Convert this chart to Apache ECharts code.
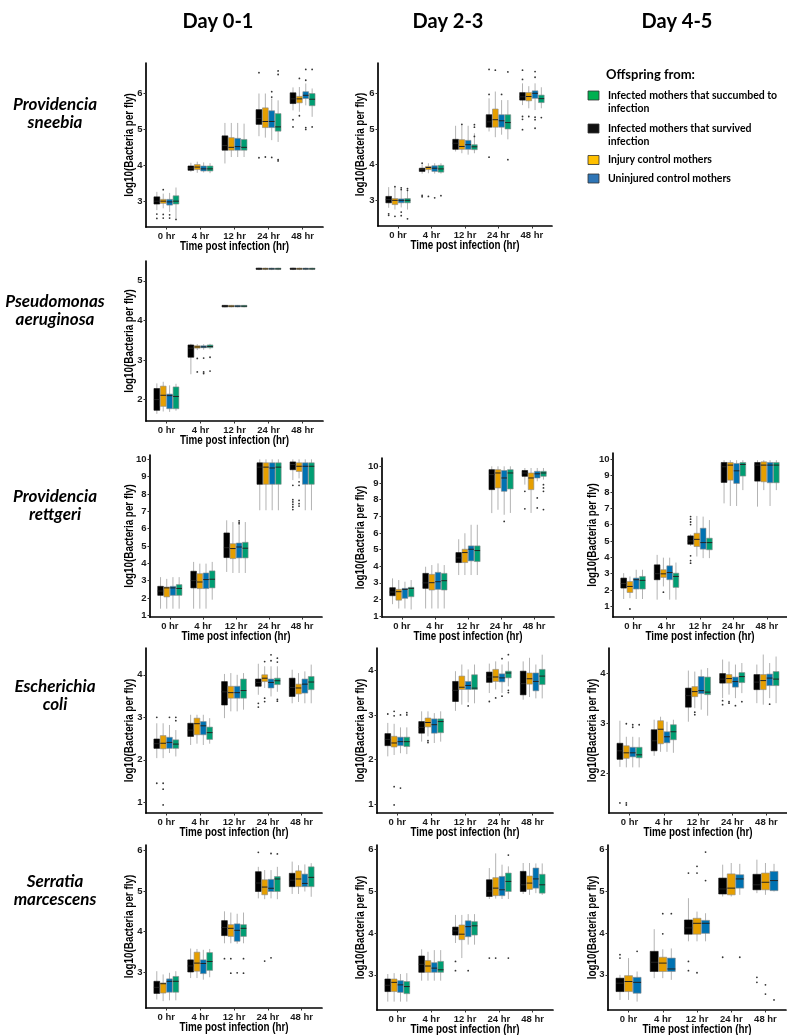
<!DOCTYPE html>
<html><head><meta charset="utf-8">
<script src="https://cdn.jsdelivr.net/npm/echarts@6/dist/echarts.min.js"></script>
<style>html,body{margin:0;padding:0;background:#fff}#c{width:787px;height:1035px}</style>
</head><body><div id="c"></div>
<script>
// ---------------- DATA ----------------
const timeCats = ['0 hr','4 hr','12 hr','24 hr','48 hr'];
const dayHeaders = ['Day 0-1','Day 2-3','Day 4-5'];
const speciesNames = [['Providencia','sneebia'],['Pseudomonas','aeruginosa'],['Providencia','rettgeri'],['Escherichia','coli'],['Serratia','marcescens']];
// plot group order: survived, injury control, uninjured control, succumbed
const groupColors = ['#000000','#E69F00','#0072B2','#009E73'];
const legendTitle = 'Offspring from:';
const legendLabels = [['Infected mothers that succumbed to','infection'],['Infected mothers that survived','infection'],['Injury control mothers'],['Uninjured control mothers']];
const legendColors = ['#00B050','#111111','#FFC000','#2E75B6'];
const xTitle = 'Time post infection (hr)';
const yTitle = 'log10(Bacteria per fly)';

const ticksSneebia = [3,4,5,6];
const ticksAeruginosa = [2,3,4,5];
const ticksRettgeri = [1,2,3,4,5,6,7,8,9,10];
const ticksColi = [1,2,3,4];
const ticksColiD45 = [2,3,4];
const ticksSerratia = [3,4,5,6];

// boxes: per group, per time: [whiskerLow, q1, median, q3, whiskerHigh]
const sneebiaD01Box = [
 [[2.75,2.92,3.0,3.12,3.26],[3.82,3.86,3.92,3.98,4.07],[4.05,4.42,4.55,4.82,5.18],[4.81,5.14,5.3,5.55,6.0],[5.53,5.72,5.85,6.02,6.17]],
 [[2.8,2.94,3.0,3.05,3.21],[3.79,3.88,3.95,4.02,4.1],[4.23,4.42,4.5,4.77,5.18],[4.77,5.05,5.22,5.6,6.0],[5.49,5.74,5.85,5.92,6.18]],
 [[2.7,2.89,2.98,3.05,3.23],[3.8,3.84,3.9,3.98,4.08],[4.23,4.42,4.52,4.75,5.18],[4.7,5.05,5.22,5.52,5.86],[5.67,5.86,5.95,6.05,6.28]],
 [[2.52,2.92,3.0,3.15,3.38],[3.78,3.84,3.9,3.98,4.06],[4.23,4.42,4.5,4.72,5.16],[4.65,4.95,5.07,5.44,5.81],[5.35,5.66,5.84,6.0,6.14]]
];
// outliers: [group, time, value]
const sneebiaD01Out = [[0,0,2.64],[0,0,2.52],[1,0,2.63],[1,0,2.53],[1,0,3.32],[2,0,2.62],[2,0,2.53],[3,0,2.49],[0,3,6.58],[0,3,4.21],[1,3,4.23],[2,3,6.05],[2,3,5.9],[2,3,4.22],[3,3,6.63],[3,3,6.53],[3,3,4.12],[3,3,4.16],[0,4,5.27],[0,4,5.07],[1,4,6.42],[1,4,5.38],[2,4,6.67],[2,4,6.37],[2,4,5.05],[2,4,5.0],[3,4,6.67],[3,4,5.07]];

const sneebiaD23Box = [
 [[2.79,2.93,3.02,3.11,3.37],[3.75,3.81,3.86,3.9,4.0],[4.37,4.43,4.6,4.71,5.09],[4.93,5.05,5.2,5.4,5.86],[5.67,5.81,5.9,6.02,6.28]],
 [[2.74,2.88,3.0,3.05,3.34],[3.76,3.86,3.92,3.95,4.04],[4.32,4.43,4.51,4.7,5.14],[4.77,5.05,5.26,5.56,6.05],[5.58,5.79,5.91,6.02,6.2]],
 [[2.8,2.93,3.0,3.04,3.3],[3.75,3.81,3.9,3.97,4.04],[4.28,4.43,4.56,4.68,5.09],[4.84,5.05,5.23,5.4,5.81],[5.53,5.86,6.0,6.07,6.28]],
 [[2.74,2.93,3.0,3.05,3.3],[3.75,3.79,3.88,3.98,4.04],[4.32,4.42,4.5,4.56,4.88],[4.71,5.0,5.18,5.4,5.81],[5.58,5.74,5.85,5.95,6.17]]
];
const sneebiaD23Out = [[0,0,2.58],[0,0,2.62],[1,0,3.38],[1,0,2.55],[2,0,3.35],[2,0,3.3],[2,0,2.67],[2,0,2.57],[3,0,3.33],[3,0,3.28],[3,0,2.48],[0,1,4.04],[0,1,3.14],[0,1,3.1],[1,1,3.11],[2,1,3.07],[3,1,3.13],[1,2,5.13],[3,2,5.12],[3,2,5.05],[3,2,4.79],[0,3,6.67],[0,3,5.97],[0,3,4.21],[1,3,6.65],[2,3,5.97],[3,3,6.6],[3,3,4.14],[0,4,6.65],[0,4,6.39],[0,4,5.35],[0,4,5.27],[0,4,4.98],[1,4,5.35],[2,4,6.61],[2,4,6.45],[2,4,5.33],[2,4,5.26],[2,4,5.02],[3,4,5.32]];

const aeruginosaD01Box = [
 [[1.64,1.73,2.0,2.28,2.41],[2.64,3.07,3.3,3.38,3.41],[4.33,4.34,4.36,4.38,4.39],[5.27,5.29,5.3,5.32,5.33],[5.27,5.29,5.3,5.32,5.33]],
 [[1.7,1.83,2.11,2.34,2.45],[3.25,3.3,3.33,3.36,3.4],[4.33,4.34,4.36,4.38,4.39],[5.27,5.29,5.3,5.32,5.33],[5.27,5.29,5.3,5.32,5.33]],
 [[1.69,1.77,2.1,2.14,2.36],[3.26,3.31,3.33,3.36,3.4],[4.33,4.34,4.36,4.38,4.39],[5.27,5.29,5.3,5.32,5.33],[5.27,5.29,5.3,5.32,5.33]],
 [[1.72,1.77,2.08,2.32,2.4],[3.27,3.31,3.34,3.38,3.41],[4.33,4.34,4.36,4.38,4.39],[5.27,5.29,5.3,5.32,5.33],[5.27,5.29,5.3,5.32,5.33]]
];
const aeruginosaD01Out = [[1,1,3.04],[1,1,2.7],[2,1,3.05],[2,1,2.7],[2,1,2.66],[3,1,3.07],[3,1,2.72]];

const rettgeriD01Box = [
 [[1.38,2.15,2.4,2.67,3.2],[1.38,2.58,3.0,3.54,4.08],[3.5,4.33,4.9,5.75,6.48],[7.06,8.56,9.55,9.8,10.0],[8.8,9.4,9.7,9.85,10.0]],
 [[1.38,2.06,2.58,2.63,3.1],[1.38,2.54,2.92,3.4,3.98],[3.44,4.27,4.85,5.13,6.38],[7.06,8.56,9.55,9.8,10.0],[8.9,9.3,9.6,9.8,10.0]],
 [[1.38,2.15,2.58,2.67,3.2],[1.38,2.54,3.06,3.44,3.98],[3.44,4.31,4.94,5.17,6.2],[7.06,8.56,9.5,9.8,10.0],[7.06,8.56,9.6,9.8,10.0]],
 [[1.38,2.15,2.55,2.77,3.2],[1.9,2.58,3.08,3.56,4.08],[3.44,4.31,4.87,5.21,6.38],[7.06,8.56,9.55,9.8,10.0],[7.06,8.56,9.6,9.8,10.0]]
];
const rettgeriD01Out = [[2,2,6.45],[2,2,6.35],[2,2,6.28],[0,4,8.5],[0,4,7.67],[0,4,7.54],[0,4,7.4],[0,4,7.25],[0,4,7.1],[1,4,8.7],[1,4,8.5],[1,4,7.63],[1,4,7.44],[1,4,7.3]];

const rettgeriD23Box = [
 [[1.72,2.23,2.45,2.71,3.27],[1.46,2.67,3.0,3.57,3.97],[3.47,4.22,4.5,4.82,5.62],[7.19,8.6,9.5,9.8,10.0],[8.9,9.4,9.6,9.75,9.9]],
 [[1.46,1.96,2.47,2.61,3.17],[1.46,2.57,3.01,3.51,4.07],[3.47,4.22,4.82,5.02,5.98],[7.39,8.7,9.6,9.8,10.0],[7.2,8.6,9.3,9.6,9.9]],
 [[1.46,2.07,2.61,2.67,3.07],[1.46,2.61,3.07,3.63,4.17],[3.47,4.32,5.02,5.22,6.49],[7.09,8.5,9.3,9.75,10.0],[9.1,9.3,9.55,9.7,9.9]],
 [[1.4,2.17,2.67,2.73,3.17],[1.46,2.57,3.13,3.57,4.07],[3.47,4.28,4.94,5.22,6.49],[7.2,8.64,9.6,9.8,10.0],[9.2,9.4,9.6,9.7,9.9]]
];
const rettgeriD23Out = [[2,3,6.69],[0,4,8.5],[0,4,7.45],[2,4,8.1],[2,4,7.5],[3,4,8.9],[3,4,8.7],[3,4,8.5],[3,4,7.4]];

const rettgeriD45Box = [
 [[1.45,2.12,2.4,2.73,3.03],[1.41,2.63,3.0,3.54,4.15],[4.7,4.8,5.0,5.31,5.4],[7.3,8.58,9.54,9.8,9.94],[7.1,8.66,9.64,9.8,9.94]],
 [[1.5,1.85,2.22,2.52,2.83],[2.22,2.77,2.99,3.24,3.98],[4.05,4.66,5.1,5.47,6.53],[7.14,8.72,9.64,9.8,9.94],[8.11,8.62,9.64,9.84,9.94]],
 [[1.45,2.06,2.63,2.73,3.24],[1.41,2.63,3.07,3.48,3.98],[3.95,4.5,4.9,5.78,6.49],[7.14,8.52,9.29,9.74,9.94],[7.14,8.56,9.64,9.8,9.94]],
 [[1.45,2.06,2.59,2.83,3.24],[1.41,2.16,2.83,3.03,3.68],[3.95,4.46,4.9,5.17,6.28],[8.11,8.97,9.68,9.8,9.94],[8.11,8.56,9.64,9.8,9.94]]
];
const rettgeriD45Out = [[1,0,0.84],[1,1,1.87],[0,2,6.49],[0,2,6.33],[0,2,6.16],[0,2,6.0],[0,2,4.09],[0,2,3.8],[0,2,3.64]];

const coliD01Box = [
 [[2.04,2.27,2.38,2.49,2.86],[2.35,2.55,2.7,2.86,3.06],[2.98,3.29,3.6,3.84,4.02],[3.53,3.73,3.82,3.9,4.26],[3.33,3.49,3.7,3.92,4.12]],
 [[2.04,2.26,2.39,2.57,2.86],[2.38,2.59,2.85,2.98,3.06],[3.14,3.45,3.58,3.73,4.04],[3.69,3.84,3.92,4.0,4.2],[3.36,3.55,3.69,3.78,4.04]],
 [[2.16,2.27,2.41,2.53,2.82],[2.35,2.59,2.8,2.9,3.06],[3.14,3.45,3.58,3.73,4.0],[3.49,3.69,3.82,3.9,4.2],[3.33,3.57,3.78,3.9,4.08]],
 [[2.08,2.27,2.37,2.47,2.7],[2.38,2.48,2.64,2.77,2.98],[3.18,3.45,3.63,3.9,4.04],[3.6,3.77,3.86,3.92,4.2],[3.33,3.65,3.83,3.96,4.24]]
];
const coliD01Out = [[0,0,3.0],[0,0,1.45],[1,0,1.45],[1,0,1.31],[1,0,0.94],[2,0,3.0],[3,0,3.0],[3,0,2.92],[0,3,3.33],[0,3,3.24],[1,3,4.31],[1,3,3.45],[1,3,3.37],[2,3,4.47],[2,3,4.33],[3,3,4.39],[3,3,4.3],[3,3,3.42],[3,3,3.38]];

const coliD23Box = [
 [[2.07,2.31,2.45,2.58,2.82],[2.4,2.59,2.72,2.85,3.08],[3.09,3.3,3.55,3.75,3.98],[3.49,3.73,3.85,3.96,4.15],[3.34,3.45,3.7,3.98,4.2]],
 [[2.1,2.28,2.37,2.52,2.8],[2.52,2.73,2.83,2.93,3.08],[3.23,3.57,3.62,3.87,4.13],[3.57,3.75,3.85,4.02,4.2],[3.4,3.69,3.81,3.94,4.28]],
 [[2.14,2.31,2.4,2.5,2.72],[2.37,2.59,2.78,2.91,3.04],[3.28,3.57,3.66,3.75,4.02],[3.49,3.74,3.83,3.92,4.13],[3.37,3.54,3.75,3.94,4.13]],
 [[2.12,2.29,2.4,2.5,2.72],[2.4,2.6,2.85,2.91,3.08],[3.26,3.57,3.6,3.9,4.13],[3.64,3.83,3.94,3.98,4.2],[3.37,3.68,3.87,4.02,4.35]]
];
const coliD23Out = [[0,0,3.02],[1,0,3.08],[1,0,2.98],[1,0,1.39],[1,0,0.98],[2,0,3.0],[2,0,1.36],[3,0,3.05],[3,0,3.0],[1,1,2.42],[1,1,2.38],[2,2,3.2],[0,3,3.3],[1,3,3.38],[2,3,4.26],[2,3,3.42],[3,3,4.35],[3,3,3.55],[3,3,3.5]];

const coliD45Box = [
 [[2.13,2.28,2.45,2.6,3.05],[2.35,2.45,2.65,2.87,3.07],[3.03,3.32,3.55,3.7,4.05],[3.5,3.8,3.88,3.99,4.27],[3.4,3.67,3.82,3.97,4.17]],
 [[2.12,2.3,2.41,2.55,2.73],[2.43,2.59,2.88,3.05,3.13],[3.3,3.53,3.63,3.73,4.03],[3.57,3.8,3.89,3.97,4.23],[3.37,3.67,3.85,3.97,4.37]],
 [[2.12,2.33,2.41,2.52,2.73],[2.43,2.61,2.73,2.83,3.03],[3.27,3.59,3.65,3.93,4.07],[3.5,3.72,3.83,3.92,4.17],[3.5,3.75,3.9,3.98,4.2]],
 [[2.12,2.31,2.37,2.52,2.72],[2.41,2.67,2.83,2.97,3.07],[3.15,3.57,3.62,3.92,4.1],[3.6,3.81,3.93,4.01,4.2],[3.4,3.75,3.88,4.03,4.33]]
];
const coliD45Out = [[0,0,1.41],[1,0,1.41],[1,0,1.37],[1,0,2.99],[2,0,2.97],[2,0,2.92],[3,0,2.97],[1,2,3.22],[1,2,3.17],[0,3,3.45],[0,3,3.37],[1,3,3.43],[1,3,3.4],[2,3,3.35],[3,3,3.43],[2,4,3.38]];

const serratiaD01Box = [
 [[2.32,2.47,2.62,2.77,3.02],[2.85,3.0,3.15,3.3,3.58],[3.71,3.9,4.1,4.27,4.5],[4.82,4.99,5.2,5.48,5.6],[4.93,5.11,5.27,5.44,5.73]],
 [[2.28,2.48,2.71,2.73,2.94],[2.85,3.02,3.22,3.49,3.57],[3.71,3.88,4.08,4.17,4.47],[4.8,4.91,5.1,5.28,5.52],[4.93,5.11,5.3,5.5,5.64]],
 [[2.3,2.5,2.77,2.83,2.98],[2.81,2.96,3.21,3.3,3.55],[3.7,3.76,4.03,4.19,4.44],[4.82,4.99,5.07,5.29,5.52],[4.99,5.11,5.19,5.42,5.66]],
 [[2.3,2.5,2.77,2.89,3.02],[2.87,3.04,3.26,3.48,3.57],[3.71,3.88,4.08,4.17,4.47],[4.8,4.99,5.3,5.36,5.6],[4.86,5.11,5.34,5.6,5.69]]
];
const serratiaD01Out = [[0,2,3.33],[1,2,3.33],[1,2,2.97],[2,2,2.98],[3,2,3.33],[3,2,2.97],[0,3,5.96],[1,3,3.27],[2,3,3.35],[2,3,5.93],[3,3,5.92]];

const serratiaD23Box = [
 [[2.36,2.6,2.75,2.9,3.02],[2.86,3.06,3.25,3.45,3.61],[3.76,3.95,4.05,4.14,4.43],[4.81,4.87,5.0,5.27,5.55],[4.93,4.99,5.15,5.47,5.67]],
 [[2.36,2.6,2.82,2.9,3.04],[2.86,3.06,3.21,3.34,3.55],[3.4,3.84,3.97,4.19,4.43],[4.82,4.89,5.07,5.32,5.9],[4.91,5.04,5.19,5.36,5.67]],
 [[2.36,2.58,2.76,2.86,3.02],[2.86,3.06,3.16,3.29,3.59],[3.72,3.91,4.15,4.29,4.45],[4.81,4.89,5.03,5.35,5.63],[4.95,5.07,5.29,5.55,5.66]],
 [[2.36,2.55,2.72,2.84,3.04],[2.86,3.06,3.12,3.32,3.59],[3.72,3.95,4.17,4.27,4.45],[4.81,4.99,5.23,5.43,5.59],[4.91,4.95,5.15,5.4,5.66]]
];
const serratiaD23Out = [[0,2,3.32],[0,2,3.1],[2,2,3.1],[0,3,3.4],[1,3,3.4],[3,3,5.86],[3,3,3.4]];

const serratiaD45Box = [
 [[2.4,2.6,2.8,2.92,3.0],[2.92,3.08,3.3,3.56,4.09],[3.8,3.97,4.12,4.31,4.83],[4.87,4.93,5.05,5.31,5.63],[4.95,5.03,5.15,5.4,5.75]],
 [[2.4,2.6,2.84,2.98,3.4],[2.92,3.08,3.28,3.42,3.61],[3.8,3.97,4.23,4.35,4.51],[4.87,4.91,5.07,5.41,5.67],[4.91,5.03,5.21,5.43,5.67]],
 [[2.36,2.56,2.82,2.94,3.08],[2.88,3.08,3.14,3.4,3.63],[3.8,3.99,4.23,4.3,4.47],[4.91,5.07,5.29,5.39,5.65],[4.99,5.01,5.25,5.47,5.65]]
];
const serratiaD45Out = [[0,0,3.48],[0,0,3.4],[2,0,3.56],[1,1,4.46],[1,1,3.98],[2,1,4.46],[0,2,5.43],[0,2,3.32],[0,2,3.1],[1,2,5.59],[1,2,5.43],[1,2,3.05],[2,2,5.93],[2,2,5.25],[0,3,3.42],[2,3,3.42],[0,4,2.94],[0,4,2.82],[1,4,2.76],[1,4,2.54],[2,4,2.4]];

// ---------------- LAYOUT ----------------
// [left, top, right, bottom], y-range, column index
const panels = [
 {box:sneebiaD01Box, out:sneebiaD01Out, ticks:ticksSneebia, r:[146,63,323,227], y:[2.28,6.85], col:0},
 {box:sneebiaD23Box, out:sneebiaD23Out, ticks:ticksSneebia, r:[378,63,552,226], y:[2.28,6.85], col:1},
 {box:aeruginosaD01Box, out:aeruginosaD01Out, ticks:ticksAeruginosa, r:[146,261,323,421], y:[1.46,5.5], col:0},
 {box:rettgeriD01Box, out:rettgeriD01Out, ticks:ticksRettgeri, r:[150,455,322,617], y:[0.9,10.25], col:0},
 {box:rettgeriD23Box, out:rettgeriD23Out, ticks:ticksRettgeri, r:[382,458,554,617], y:[0.95,10.5], col:1},
 {box:rettgeriD45Box, out:rettgeriD45Out, ticks:ticksRettgeri, r:[613,453,787,617], y:[0.35,10.38], col:2},
 {box:coliD01Box, out:coliD01Out, ticks:ticksColi, r:[146,648,322,813], y:[0.75,4.63], col:0},
 {box:coliD23Box, out:coliD23Out, ticks:ticksColi, r:[377,648,553,813], y:[0.8,4.5], col:1},
 {box:coliD45Box, out:coliD45Out, ticks:ticksColiD45, r:[609,648,787,813], y:[1.21,4.5], col:2},
 {box:serratiaD01Box, out:serratiaD01Out, ticks:ticksSerratia, r:[146,845,322,1008], y:[2.11,6.14], col:0},
 {box:serratiaD23Box, out:serratiaD23Out, ticks:ticksSerratia, r:[377,845,553,1010], y:[2.16,6.1], col:1},
 {box:serratiaD45Box, out:serratiaD45Out, ticks:ticksSerratia, r:[608,845,786,1010], y:[2.16,6.1], col:2}
];
const yTitleX = [130, 361, 593];
const headerX = [218, 448, 677];
const speciesY = [105, 302, 497, 687, 882];
const AXFONT = "'Liberation Sans',Arial,sans-serif";
const TXFONT = "Lato,'Open Sans','Liberation Sans',sans-serif";
const DODGE = 0.75;
const SQUEEZE = 0.82;

const grids = [], xAxes = [], yAxes = [], series = [], graphic = [];
panels.forEach((p, i) => {
  const [l, t, r, b] = p.r;
  grids.push({left: l, top: t, width: r - l, height: b - t, containLabel: false});
  xAxes.push({
    type: 'value', gridIndex: i, min: 0.4, max: 5.6,
    axisLine: {show: true, lineStyle: {color: '#000', width: 1.7}},
    axisTick: {show: true, length: 2.5, lineStyle: {color: '#333'}, customValues: [1,2,3,4,5]},
    axisLabel: {customValues: [1,2,3,4,5], formatter: v => timeCats[Math.round(v) - 1], margin: 4,
      fontFamily: AXFONT, fontWeight: 'bold', fontSize: 9.5, color: '#1a1a1a'},
    splitLine: {show: false}
  });
  yAxes.push({
    type: 'value', gridIndex: i, min: p.y[0], max: p.y[1],
    axisLine: {show: true, lineStyle: {color: '#000', width: 1.7}},
    axisTick: {show: true, length: 2.5, lineStyle: {color: '#333'}, customValues: p.ticks},
    axisLabel: {customValues: p.ticks, margin: 3.5, fontFamily: AXFONT, fontWeight: 'bold', fontSize: 9.5, color: '#1a1a1a'},
    splitLine: {show: false}
  });
  // axis titles (horizontally condensed like the reference)
  graphic.push({type: 'text', x: (l + r) / 2, y: b + 19.5, scaleX: SQUEEZE, style: {
    text: xTitle, x: 0, y: 0, align: 'center', verticalAlign: 'middle', font: 'bold 12px ' + AXFONT, fill: '#000'}});
  graphic.push({type: 'text', x: yTitleX[p.col], y: (t + b) / 2, rotation: Math.PI / 2, scaleX: SQUEEZE, style: {
    text: yTitle, x: 0, y: 0, align: 'center', verticalAlign: 'middle', font: 'bold 12px ' + AXFONT, fill: '#000'}});

  const nG = p.box.length;
  p.box.forEach((grp, g) => {
    series.push({
      type: 'custom', xAxisIndex: i, yAxisIndex: i, silent: true,
      data: grp.map((v, c) => [c, v[0], v[1], v[2], v[3], v[4]]),
      renderItem: (params, api) => {
        const c = api.value(0);
        const band = api.size([1, 0])[0];
        const dw = band * DODGE, w = dw / nG;
        const cx = api.coord([c + 1, api.value(3)])[0] - dw / 2 + (g + 0.5) * w;
        const yl = api.coord([c + 1, api.value(1)])[1];
        const y1 = api.coord([c + 1, api.value(2)])[1];
        const ym = api.coord([c + 1, api.value(3)])[1];
        const y3 = api.coord([c + 1, api.value(4)])[1];
        const yh = api.coord([c + 1, api.value(5)])[1];
        return {type: 'group', children: [
          {type: 'line', shape: {x1: cx, y1: yh, x2: cx, y2: yl}, style: {stroke: '#b3b3b3', lineWidth: 1}},
          {type: 'rect', shape: {x: cx - w / 2 + 0.3, y: y3, width: w - 0.6, height: Math.max(y1 - y3, 1)},
            style: {fill: groupColors[g], stroke: g === 0 ? '#111' : '#8a8a8a', lineWidth: 0.6}},
          {type: 'line', shape: {x1: cx - w / 2 + 0.3, y1: ym, x2: cx + w / 2 - 0.3, y2: ym}, style: {stroke: '#222', lineWidth: 1}}
        ]};
      }
    });
  });
  series.push({
    type: 'custom', xAxisIndex: i, yAxisIndex: i, silent: true,
    data: p.out,
    renderItem: (params, api) => {
      const g = api.value(0), c = api.value(1);
      const band = api.size([1, 0])[0];
      const dw = band * DODGE, w = dw / nG;
      const pt = api.coord([c + 1, api.value(2)]);
      return {type: 'circle', shape: {cx: pt[0] - dw / 2 + (g + 0.5) * w, cy: pt[1], r: 0.9}, style: {fill: '#333'}};
    }
  });
});

dayHeaders.forEach((h, i) => graphic.push({type: 'text', style: {
  text: h, x: headerX[i], y: 22, align: 'center', verticalAlign: 'middle',
  font: 'bold 20px ' + TXFONT, fill: '#000'}}));
speciesNames.forEach((s, i) => s.forEach((line, j) => graphic.push({type: 'text', style: {
  text: line, x: 55, y: speciesY[i] + j * 18, align: 'center', verticalAlign: 'middle',
  font: 'italic bold 17px ' + TXFONT, fill: '#000'}})));
graphic.push({type: 'text', style: {text: legendTitle, x: 606, y: 75, align: 'left', verticalAlign: 'middle',
  font: 'bold 13px ' + TXFONT, fill: '#000'}});
const legendY = [95.5, 128.5, 160, 178.5];
legendLabels.forEach((lines, i) => {
  graphic.push({type: 'rect', shape: {x: 588, y: legendY[i] - 4.5, width: 11, height: 9},
    style: {fill: legendColors[i], stroke: '#333', lineWidth: 0.8}});
  lines.forEach((ln, j) => graphic.push({type: 'text', style: {text: ln, x: 608, y: legendY[i] + j * 13.5,
    align: 'left', verticalAlign: 'middle', font: 'bold 10.5px ' + TXFONT, fill: '#000'}}));
});

const chart = echarts.init(document.getElementById('c'), null, {renderer: 'canvas'});
chart.setOption({animation: false, backgroundColor: '#fff', grid: grids, xAxis: xAxes, yAxis: yAxes, series, graphic});
</script></body></html>
